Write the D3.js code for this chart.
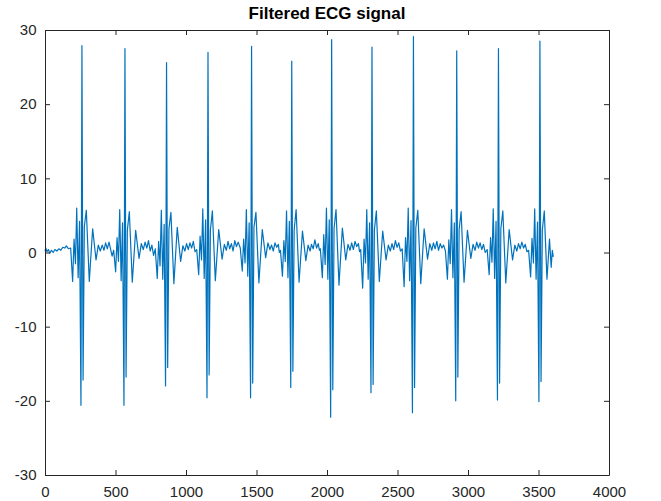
<!DOCTYPE html>
<html>
<head>
<meta charset="utf-8">
<script src="https://cdn.jsdelivr.net/npm/d3@7/dist/d3.min.js"></script>
<style>
  html, body { margin: 0; padding: 0; background: #ffffff; }
  svg { display: block; }
</style>
</head>
<body>
<svg id="chart" width="661" height="501"></svg>
<script>
// ---- data ----
const chartTitle = "Filtered ECG signal";
const xTicks = [0, 500, 1000, 1500, 2000, 2500, 3000, 3500, 4000];
const yTicks = [-30, -20, -10, 0, 10, 20, 30];
const xDomain = [0, 4000];
const yDomain = [-30, 30];

// [sample index, amplitude]
const ecgSignal = [
  [0,0.2],[6,0.6],[14,0.1],[24,0.4],[34,-0.1],[46,0.3],[58,0.0],[70,0.4],[84,0.2],[98,0.5],[112,0.3],[126,0.7],[140,0.6],[152,0.9],
  // beat 1
  [166,0.5],[182,0.6],[196,-3.9],[206,1.8],[216,-1.5],[225,6.0],[235,-3.4],[245,4.2],[255,-20.6],[262,27.9],[270,-17.2],[279,3.5],[293,5.7],[314,-3.9],[338,3.2],[362,-1.0],[378,1.0],[392,0.2],
  [406,1.0],[418,0.3],[430,1.3],[442,0.5],[454,1.4],[466,0.4],[476,-0.5],
  // beat 2
  [487,0.3],[501,-2.6],[511,2.0],[521,-1.2],[530,5.8],[540,-3.8],[550,4.0],[560,-20.6],[567,27.5],[575,-16.8],[584,3.0],[598,5.5],[619,-4.0],[643,3.0],[667,-0.8],[683,1.2],[697,0.4],
  [710,1.4],[722,0.6],[734,1.6],[746,0.2],[758,1.0],[770,-0.4],
  // beat 3
  [782,0.5],[796,-3.5],[806,1.5],[816,-1.8],[825,5.7],[835,-3.6],[845,3.8],[855,-18.0],[862,25.6],[870,-15.5],[879,3.2],[893,5.4],[914,-4.2],[938,3.4],[962,-1.2],[978,0.9],[992,0.2],
  [1004,1.2],[1016,0.4],[1028,1.3],[1040,0.6],[1052,1.5],[1064,0.1],
  // beat 4
  [1076,0.4],[1090,-3.0],[1100,2.2],[1110,-1.0],[1119,5.9],[1129,-3.5],[1139,4.4],[1149,-19.6],[1156,27.0],[1164,-16.5],[1173,3.0],[1187,5.6],[1208,-3.8],[1232,3.1],[1256,-0.9],[1272,1.1],[1286,0.3],
  [1298,1.5],[1310,0.5],[1322,1.2],[1334,0.2],[1346,1.6],[1358,0.8],[1370,1.4],
  // beat 5
  [1385,0.6],[1399,-2.5],[1409,1.8],[1419,-1.4],[1428,5.8],[1438,-3.2],[1448,4.0],[1458,-19.6],[1465,27.8],[1473,-17.6],[1482,3.4],[1496,5.4],[1517,-4.1],[1541,3.1],[1565,-0.7],[1581,1.3],[1595,0.4],
  [1607,1.0],[1619,0.2],[1631,1.3],[1643,0.7],[1655,1.1],[1662,0.0],
  // beat 6
  [1670,0.3],[1684,-3.2],[1694,1.6],[1704,-1.2],[1713,5.6],[1723,-3.4],[1733,4.2],[1743,-18.2],[1750,25.8],[1758,-16.0],[1767,3.0],[1781,5.8],[1802,-4.0],[1826,2.9],[1850,-1.1],[1866,1.0],[1880,0.2],
  [1890,1.1],[1902,0.5],[1914,1.7],[1926,0.6],[1938,1.2],[1946,0.3],
  // beat 7
  [1953,0.5],[1967,-3.4],[1977,2.4],[1987,-1.6],[1996,6.0],[2006,-3.6],[2016,4.4],[2026,-22.2],[2033,28.7],[2041,-18.5],[2050,3.2],[2064,5.8],[2085,-4.4],[2109,3.3],[2133,-1.0],[2149,1.1],[2163,0.3],
  [2175,1.3],[2187,0.4],[2199,1.5],[2211,0.8],[2223,1.2],[2231,0.1],
  // beat 8
  [2239,0.4],[2253,-4.8],[2263,1.8],[2273,-1.4],[2282,5.8],[2292,-3.6],[2302,4.0],[2312,-18.9],[2319,27.7],[2327,-17.8],[2336,3.0],[2350,5.6],[2371,-3.9],[2395,2.9],[2419,-1.0],[2435,1.0],[2449,0.2],
  [2461,1.2],[2473,0.4],[2485,1.6],[2497,0.7],[2509,1.3],[2521,0.2],
  // beat 9
  [2533,0.5],[2547,-4.6],[2557,2.0],[2567,-1.2],[2576,6.0],[2586,-3.8],[2596,4.3],[2606,-21.6],[2613,29.1],[2621,-18.2],[2630,3.3],[2644,5.7],[2665,-4.2],[2689,3.2],[2713,-0.9],[2729,1.2],[2743,0.3],
  [2755,1.3],[2767,0.5],[2779,1.5],[2791,0.3],[2803,1.2],[2815,0.6],[2827,1.0],
  // beat 10
  [2840,0.2],[2854,-3.6],[2864,1.7],[2874,-1.5],[2883,5.8],[2893,-3.4],[2903,4.0],[2913,-20.0],[2920,27.2],[2928,-16.8],[2937,3.1],[2951,5.5],[2972,-4.0],[2996,3.0],[3020,-0.8],[3036,1.1],[3050,0.3],
  [3062,1.4],[3074,0.6],[3086,1.3],[3098,0.4],[3110,1.1],[3122,0.0],
  // beat 11
  [3136,0.4],[3150,-3.0],[3160,2.0],[3170,-1.3],[3179,5.9],[3189,-3.5],[3199,4.2],[3209,-19.9],[3216,27.5],[3224,-17.6],[3233,3.2],[3247,5.6],[3268,-4.1],[3292,3.1],[3316,-1.0],[3332,1.0],[3346,0.2],
  [3358,1.2],[3370,0.5],[3382,1.4],[3394,0.6],[3406,1.1],[3418,0.1],
  // beat 12
  [3430,0.3],[3444,-3.3],[3454,1.9],[3464,-1.4],[3473,5.9],[3483,-3.6],[3493,4.1],[3503,-20.1],[3510,28.5],[3518,-17.4],[3527,3.0],[3541,5.6],[3560,-3.6],[3578,1.8],[3590,-2.0],[3598,0.3],[3605,-0.6]
];

// ---- layout ----
const margin = { left: 45, right: 52, top: 30, bottom: 26 };
const W = 661, H = 501;
const svg = d3.select("#chart");

const x = d3.scaleLinear().domain(xDomain).range([margin.left, W - margin.right]);
const y = d3.scaleLinear().domain(yDomain).range([H - margin.bottom, margin.top]);

const axisColor = "#262626";
const tickFont = "'Liberation Sans', Arial, Helvetica, sans-serif";
const plainFormat = d => String(d);

// signal line
const line = d3.line().x(d => x(d[0])).y(d => y(d[1]));
svg.append("path")
  .datum(ecgSignal)
  .attr("fill", "none")
  .attr("stroke", "#0072BD")
  .attr("stroke-width", 1.2)
  .attr("stroke-linejoin", "round")
  .attr("d", line);

function styleAxis(g) {
  g.selectAll("path.domain").attr("stroke", axisColor).attr("stroke-width", 1);
  g.selectAll(".tick line").attr("stroke", axisColor).attr("stroke-width", 1);
  g.selectAll(".tick text")
    .attr("fill", axisColor)
    .style("font-family", tickFont)
    .style("font-size", "15px");
}

// bottom
svg.append("g")
  .attr("transform", `translate(0,${y(yDomain[0])})`)
  .call(d3.axisBottom(x).tickValues(xTicks).tickFormat(plainFormat).tickSizeInner(-5).tickSizeOuter(0).tickPadding(11))
  .call(styleAxis);
// top
svg.append("g")
  .attr("transform", `translate(0,${y(yDomain[1])})`)
  .call(d3.axisTop(x).tickValues(xTicks).tickSizeInner(-5).tickSizeOuter(0).tickFormat(""))
  .call(styleAxis);
// left
svg.append("g")
  .attr("transform", `translate(${x(xDomain[0])},0)`)
  .call(d3.axisLeft(y).tickValues(yTicks).tickFormat(plainFormat).tickSizeInner(-5).tickSizeOuter(0).tickPadding(8.5))
  .call(styleAxis);
// right
svg.append("g")
  .attr("transform", `translate(${x(xDomain[1])},0)`)
  .call(d3.axisRight(y).tickValues(yTicks).tickSizeInner(-5).tickSizeOuter(0).tickFormat(""))
  .call(styleAxis);

// title
svg.append("text")
  .attr("x", (x(xDomain[0]) + x(xDomain[1])) / 2)
  .attr("y", 19)
  .attr("text-anchor", "middle")
  .attr("fill", "#000")
  .style("font-family", tickFont)
  .style("font-weight", "bold")
  .style("font-size", "17px")
  .text(chartTitle);
</script>
</body>
</html>
